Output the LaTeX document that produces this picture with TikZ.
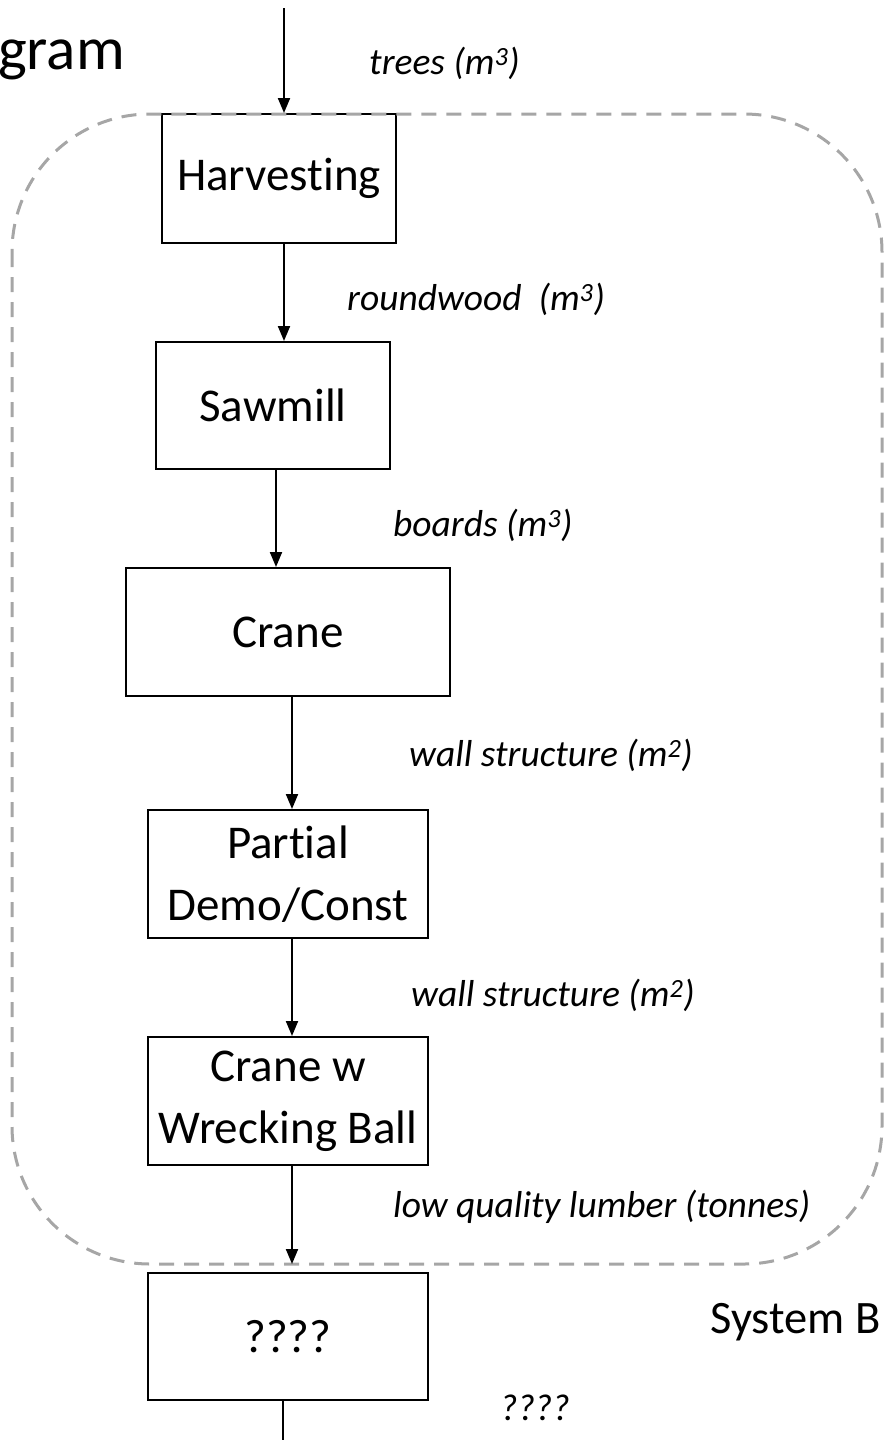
\documentclass[tikz,border=0pt]{standalone}
\usepackage{fontspec}
\setmainfont[Ligatures=NoCommon]{Carlito}
\usetikzlibrary{arrows.meta}
\definecolor{boundgray}{HTML}{A6A6A6}
\tikzset{
  procbox/.style={draw=black, line width=2pt, rectangle, inner sep=0pt,
    align=center, font=\fontsize{47}{62}\selectfont},
  flow/.style={draw=black, line width=2pt, -{Triangle[length=15pt,width=12pt]}},
  plainflow/.style={draw=black, line width=2pt},
  flowlabel/.style={anchor=west, inner sep=0pt, font=\fontsize{37.5}{44}\selectfont\itshape},
  boundary/.style={draw=boundgray, line width=3pt, dash pattern=on 15pt off 10pt,
    rounded corners=138pt},
}
\begin{document}
\begin{tikzpicture}[x=1pt, y=-1pt]
\useasboundingbox (0,0) rectangle (884,1440);

% title fragment and system label
\node[anchor=base east, inner sep=0pt, font=\fontsize{61}{72}\selectfont] (title) at (125,69) {gram};
\node[anchor=base east, inner sep=0pt, font=\fontsize{46.5}{56}\selectfont] (sysB) at (881,1333) {System B};

% process boxes
\node[procbox, minimum width=234pt, minimum height=129pt] (harv) at (279,178.5) {Harvesting};
\node[procbox, minimum width=234pt, minimum height=127pt] (saw) at (273,405.5) {Sawmill};
\node[procbox, minimum width=324pt, minimum height=128pt] (crane) at (288,632) {Crane};
\node[procbox, minimum width=280pt, minimum height=128pt] (partial) at (288,874) {Partial\\Demo/Const};
\node[procbox, minimum width=280pt, minimum height=128pt] (wreck) at (288,1101) {Crane w\\Wrecking Ball};
\node[procbox, minimum width=280pt, minimum height=127pt] (unk) at (288,1336.5) {????};

% system boundary
\draw[boundary] (12,114) rectangle (882,1264);

% free ends of the open connectors
\coordinate (inflow) at (284,8);
\coordinate (edge) at (292,1264);
\coordinate (outflow) at (283,1440);

% connectors
\draw[flow] (inflow) -- ([xshift=5pt]harv.north);
\draw[flow] ([xshift=5pt]harv.south) -- ([xshift=5pt]harv.south |- saw.north);
\draw[flow] ([xshift=3pt]saw.south) -- ([xshift=3pt]saw.south |- crane.north);
\draw[flow] ([xshift=4pt]crane.south) -- ([xshift=4pt]crane.south |- partial.north);
\draw[flow] ([xshift=4pt]partial.south) -- ([xshift=4pt]partial.south |- wreck.north);
\draw[flow] ([xshift=4pt]wreck.south) -- (edge);
\draw[plainflow] ([xshift=-5pt]unk.south) -- (outflow);

% flow labels
\node[flowlabel] (l1) at (369,63) {trees (m\textsuperscript{3})};
\node[flowlabel] (l2) at (347,299) {roundwood~~(m\textsuperscript{3})};
\node[flowlabel] (l3) at (393,525) {boards (m\textsuperscript{3})};
\node[flowlabel] (l4) at (409,755) {wall structure (m\textsuperscript{2})};
\node[flowlabel] (l5) at (411,995) {wall structure (m\textsuperscript{2})};
\node[flowlabel] (l6) at (393,1207) {low quality lumber (tonnes)};
\node[flowlabel] (l7) at (500,1408) {????};
\end{tikzpicture}
\end{document}
